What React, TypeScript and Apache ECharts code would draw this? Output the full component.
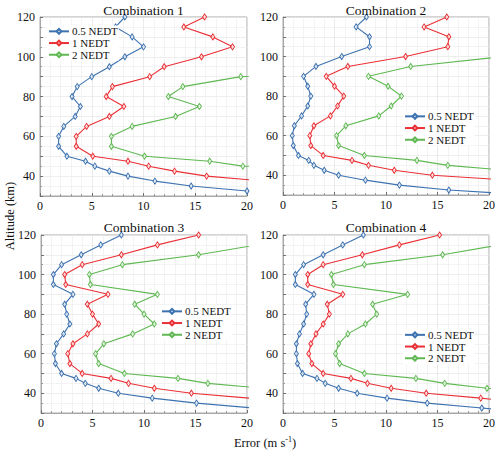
import React, { useEffect, useRef } from "react";
import * as echarts from "echarts";

const ALT = [120, 115, 110, 105, 100, 95, 90, 85, 80, 75, 70, 65, 60, 55, 50, 47.5, 45, 42.5, 40, 37.5, 35, 32.5, 30];
const NAMES = ["0.5 NEDT", "1 NEDT", "2 NEDT"];
const COLORS = ["#3d72b0", "#ea3035", "#5fb852"];
const TITLES = ["Combination 1", "Combination 2", "Combination 3", "Combination 4"];
const X_TICKS = [0, 5, 10, 15, 20];
const Y_TICKS = [40, 60, 80, 100, 120];

const c1Blue = [8.2, 7.3, 8.9, 10.0, 8.2, 6.7, 5.0, 3.6, 3.1, 3.9, 3.4, 2.3, 1.8, 1.8, 2.6, 4.4, 5.3, 6.7, 8.5, 11.1, 14.6, 20.0, 28];
const c1Red = [15.9, 13.9, 16.7, 18.6, 15.6, 12.0, 10.6, 7.0, 6.4, 8.1, 6.7, 4.5, 3.5, 3.5, 5.1, 8.5, 10.5, 13.0, 16.1, 21.8, 30, null, null];
const c1Green = [null, null, null, null, null, 40, 19.4, 13.8, 12.4, 15.4, 13.1, 8.9, 6.9, 6.9, 10.1, 16.4, 19.6, 40, null, null, null, null, null];

const c2Blue = [8.1, 7.1, 8.4, 8.4, 5.7, 3.2, 2.0, 2.4, 2.7, 2.4, 1.8, 1.1, 0.9, 1.0, 1.5, 2.5, 3.0, 4.0, 5.4, 8.0, 11.3, 16.1, 24];
const c2Red = [15.9, 13.7, 16.1, 16.0, 11.9, 6.3, 4.2, 5.0, 5.9, 5.3, 4.6, 3.0, 2.6, 2.7, 3.9, 6.7, 8.3, 10.8, 14.5, 22.1, 30, null, null];
const c2Green = [null, null, null, null, 21.4, 12.4, 8.3, 10.2, 11.5, 10.5, 9.3, 6.1, 5.2, 5.4, 7.9, 13.0, 16.0, 21.6, 30, null, null, null, null];

const c3Blue = [7.8, 5.8, 3.9, 2.0, 1.2, 1.2, 3.1, 2.3, 2.5, 2.8, 2.2, 1.5, 1.3, 1.4, 2.0, 3.4, 4.3, 5.6, 7.5, 10.8, 15.1, 20.7, 28];
const c3Red = [15.3, 11.3, 7.8, 4.0, 2.3, 2.4, 6.5, 4.5, 5.0, 5.6, 4.5, 3.1, 2.6, 2.8, 4.0, 6.8, 8.5, 11.0, 14.6, 20.2, 27, null, null];
const c3Green = [null, 21.0, 15.3, 7.9, 4.7, 4.8, 11.3, 9.1, 10.0, 11.0, 8.9, 6.1, 5.3, 5.6, 8.1, 13.3, 16.2, 21.5, 30, null, null, null, null];

const c4Blue = [7.8, 5.8, 3.9, 2.0, 1.2, 1.2, 3.0, 2.2, 2.3, 2.0, 1.6, 1.3, 1.3, 1.4, 1.9, 3.3, 4.1, 5.4, 7.2, 10.1, 14.0, 19.3, 25];
const c4Red = [15.2, 11.3, 7.7, 3.9, 2.4, 2.4, 5.8, 4.3, 4.5, 3.9, 3.2, 2.7, 2.5, 2.8, 3.9, 6.6, 8.2, 10.5, 13.9, 19.2, 24, null, null];
const c4Green = [null, 21.0, 15.5, 7.9, 4.7, 4.9, 12.1, 8.7, 9.1, 8.0, 6.3, 5.4, 5.1, 5.5, 7.9, 12.9, 15.7, 19.8, 28, null, null, null, null];

const PANELS = [
  [c1Blue, c1Red, c1Green],
  [c2Blue, c2Red, c2Green],
  [c3Blue, c3Red, c3Green],
  [c4Blue, c4Red, c4Green],
];

const FONT = "'Liberation Serif', 'Times New Roman', serif";

export default function App() {
  const ref = useRef<HTMLDivElement>(null);
  useEffect(() => {
    if (!ref.current) return;
    const chart = echarts.init(ref.current, undefined, { renderer: "svg" });
    const grids = [
      { left: 40, top: 17, width: 207, height: 179 },
      { left: 283, top: 17, width: 206, height: 178 },
      { left: 41, top: 235, width: 206, height: 178 },
      { left: 283, top: 235, width: 206, height: 178 },
    ];
    const legendPos = [
      { left: 47, top: 25.5 },
      { left: 403, top: 110.5 },
      { left: 160, top: 305.5 },
      { left: 403, top: 329 },
    ];
    const axisColor = "#a8a8a8";
    const xAxes = grids.map((_, i) => ({
      type: "value",
      gridIndex: i,
      min: X_TICKS[0],
      max: X_TICKS[X_TICKS.length - 1],
      interval: 5,
      axisLine: { show: true, lineStyle: { color: axisColor, width: 1 } },
      axisTick: { show: true, inside: true, length: 3, lineStyle: { color: "#707070" } },
      minorTick: { show: true, splitNumber: 5, length: 2, lineStyle: { color: "#9a9a9a" } },
      splitLine: { show: true, lineStyle: { color: "#e2e2e2", width: 0.7 } },
      minorSplitLine: { show: true, lineStyle: { color: "#eeeeee", width: 0.7 } },
      axisLabel: { color: "#111", fontFamily: FONT, fontSize: 12, margin: 4 },
    }));
    const yAxes = grids.map((_, i) => ({
      type: "value",
      gridIndex: i,
      min: 30,
      max: 120,
      interval: 10,
      axisLine: { show: true, lineStyle: { color: axisColor, width: 1 } },
      axisTick: { show: true, inside: true, length: 3, lineStyle: { color: "#707070" } },
      minorTick: { show: true, splitNumber: 2, length: 2, lineStyle: { color: "#9a9a9a" } },
      splitLine: { show: true, lineStyle: { color: "#e6e6e6", width: 0.7 } },
      minorSplitLine: { show: true, lineStyle: { color: "#eeeeee", width: 0.7 } },
      axisLabel: {
        color: "#111",
        fontFamily: FONT,
        fontSize: 12,
        margin: 5,
        formatter: (v: number) => (Y_TICKS.includes(v) ? String(v) : ""),
      },
    }));
    const series: any[] = [];
    PANELS.forEach((panel, pi) => {
      panel.forEach((vals, si) => {
        const data: number[][] = [];
        vals.forEach((v, k) => {
          if (v !== null && v !== undefined) data.push([v as number, ALT[k]]);
        });
        series.push({
          type: "line",
          name: NAMES[si],
          xAxisIndex: pi,
          yAxisIndex: pi,
          data,
          clip: true,
          symbol: "diamond",
          symbolSize: [4, 6],
          showAllSymbol: true,
          lineStyle: { color: COLORS[si], width: 1.1 },
          itemStyle: { color: "rgba(255,255,255,0.7)", borderColor: COLORS[si], borderWidth: 1 },
          emphasis: { disabled: true },
          z: 3 + si,
        });
      });
    });
    const option: any = {
      animation: false,
      backgroundColor: "#fff",
      title: grids.map((g, i) => ({
        text: TITLES[i],
        left: g.left + g.width / 2,
        top: i < 2 ? 3 : 220,
        padding: 0,
        textAlign: "center",
        textStyle: { fontFamily: FONT, fontSize: 13.5, fontWeight: "normal", color: "#111" },
      })),
      grid: grids.map((g) => ({ ...g, show: true, borderColor: axisColor, borderWidth: 1, backgroundColor: "transparent" })),
      xAxis: xAxes,
      yAxis: yAxes,
      legend: legendPos.map((p) => ({
        data: NAMES,
        left: p.left,
        top: p.top,
        orient: "vertical",
        itemWidth: 20,
        itemHeight: 6,
        itemGap: 0,
        padding: [0, 1],
        selectedMode: false,
        backgroundColor: "#fff",
        textStyle: { fontFamily: FONT, fontSize: 11, color: "#111", lineHeight: 11.7, padding: [0, 0, 0, -2] },
      })),
      graphic: [
        {
          type: "text",
          x: 10,
          y: 216,
          rotation: Math.PI / 2,
          style: {
            text: "Altitude (km)",
            fontFamily: FONT,
            fontSize: 12.5,
            fill: "#111",
            textAlign: "center",
            textVerticalAlign: "middle",
          },
        },
        {
          type: "text",
          x: 265,
          y: 443,
          style: {
            text: "Error (m s{sup|-1})",
            fontFamily: FONT,
            fontSize: 12.5,
            fill: "#111",
            textAlign: "center",
            textVerticalAlign: "middle",
            rich: {
              sup: { fontFamily: FONT, fontSize: 8, verticalAlign: "top", padding: [0, 0, 7, 0], fill: "#111" },
            },
          },
        },
      ],
      series,
    };
    chart.setOption(option);
    return () => chart.dispose();
  }, []);
  return <div ref={ref} style={{ position: "fixed", left: 0, top: 0, width: 500, height: 456 }} />;
}
